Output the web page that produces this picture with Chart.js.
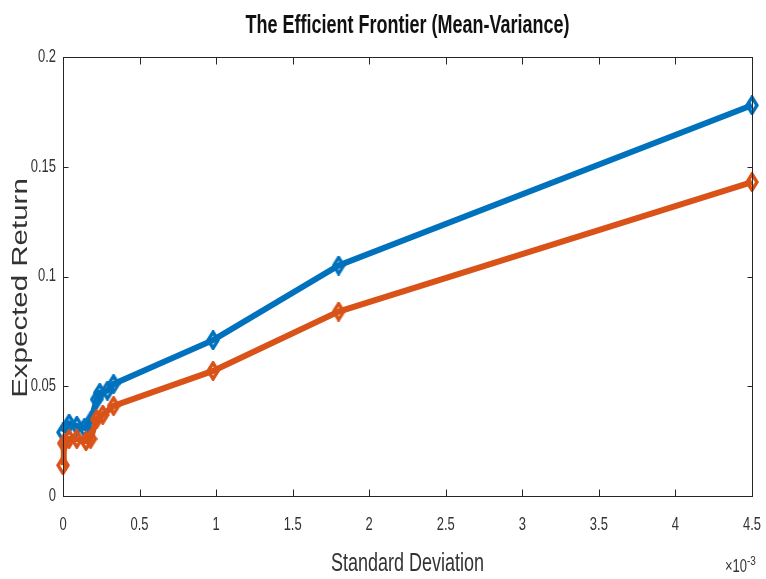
<!DOCTYPE html>
<html>
<head>
<meta charset="utf-8">
<title>The Efficient Frontier (Mean-Variance)</title>
<script src="https://cdn.jsdelivr.net/npm/chart.js@4.4.1/dist/chart.umd.min.js"></script>
<style>
  html, body { margin: 0; padding: 0; background: #ffffff; }
  #wrap { width: 766px; height: 579px; }
</style>
</head>
<body>
<div id="wrap"><canvas id="frontier" width="766" height="579"></canvas></div>
<script>
// Portfolio standard deviation (x) and expected return (y) along each frontier
const blueStd = [0, 0.00004, 0.00009, 0.00014, 0.00018, 0.00022, 0.00024, 0.00029, 0.00033, 0.00098, 0.0018, 0.0045];
const blueRet = [0.029, 0.033, 0.032, 0.031, 0.034, 0.044, 0.047, 0.048, 0.051, 0.071, 0.105, 0.178];

const orangeStd = [0, 0.000005, 0.00004, 0.00009, 0.00015, 0.00018, 0.00022, 0.00026, 0.00033, 0.00098, 0.0018, 0.0045];
const orangeRet = [0.014, 0.024, 0.026, 0.026, 0.025, 0.026, 0.035, 0.037, 0.041, 0.057, 0.084, 0.143];

// Axis ticks
const xTickLabels = ['0', '0.5', '1', '1.5', '2', '2.5', '3', '3.5', '4', '4.5'];
const xTickScale = 1e-3;
const yTickLabels = ['0', '0.05', '0.1', '0.15', '0.2'];

const titleText = 'The Efficient Frontier (Mean-Variance)';
const xAxisText = 'Standard Deviation';
const yAxisText = 'Expected Return';

const BLUE = '#0072BD';
const ORANGE = '#D95319';
const INK = '#333333';
const FONT = '"Liberation Sans", Arial, Helvetica, sans-serif';
const STRETCH = 1.37; // tall, narrow lettering

function pairs(xs, ys) {
  return xs.map((x, i) => ({ x: x, y: ys[i] }));
}

// Hollow diamond marker, slightly taller than wide
function diamond(color) {
  const c = document.createElement('canvas');
  c.width = 14; c.height = 20;
  const g = c.getContext('2d');
  g.strokeStyle = color;
  g.lineWidth = 3.4;
  g.lineJoin = 'miter';
  g.beginPath();
  g.moveTo(7, 2);
  g.lineTo(12, 10);
  g.lineTo(7, 18);
  g.lineTo(2, 10);
  g.closePath();
  g.stroke();
  return c;
}

function drawText(ctx, text, x, y, opt) {
  ctx.save();
  ctx.translate(x, y);
  if (opt.rotate) {
    ctx.rotate(-Math.PI / 2);
    ctx.scale(opt.along || 1, 1);
  } else {
    ctx.scale(1, opt.sy || 1);
  }
  ctx.font = (opt.bold ? 'bold ' : '') + opt.size + 'px ' + FONT;
  ctx.fillStyle = opt.color || INK;
  ctx.textAlign = opt.align || 'center';
  ctx.textBaseline = opt.baseline || 'alphabetic';
  ctx.fillText(text, 0, 0);
  ctx.restore();
}

// Box, inward tick marks and all lettering around the axes
const axesDecor = {
  id: 'axesDecor',
  afterDatasetsDraw(chart) {
    const ctx = chart.ctx;
    const a = chart.chartArea;
    const xs = chart.scales.x;
    const ys = chart.scales.y;
    const L = Math.round(a.left) + 0.5, R = Math.round(a.right) + 0.5;
    const T = Math.round(a.top) + 0.5, B = Math.round(a.bottom) + 0.5;

    ctx.save();
    ctx.strokeStyle = '#262626';
    ctx.lineWidth = 1;
    ctx.strokeRect(L, T, R - L, B - T);

    ctx.beginPath();
    xTickLabels.forEach(lbl => {
      const px = Math.round(xs.getPixelForValue(parseFloat(lbl) * xTickScale)) + 0.5;
      ctx.moveTo(px, B); ctx.lineTo(px, B - 7);
      ctx.moveTo(px, T); ctx.lineTo(px, T + 7);
    });
    yTickLabels.forEach(lbl => {
      const py = Math.round(ys.getPixelForValue(parseFloat(lbl))) + 0.5;
      ctx.moveTo(L, py); ctx.lineTo(L + 5, py);
      ctx.moveTo(R, py); ctx.lineTo(R - 5, py);
    });
    ctx.stroke();
    ctx.restore();

    xTickLabels.forEach(lbl => {
      const px = xs.getPixelForValue(parseFloat(lbl) * xTickScale);
      drawText(ctx, lbl, px, 530, { size: 13, sy: STRETCH });
    });
    yTickLabels.forEach(lbl => {
      const py = ys.getPixelForValue(parseFloat(lbl));
      drawText(ctx, lbl, a.left - 7, py, { size: 13, sy: STRETCH, align: 'right', baseline: 'middle' });
    });

    drawText(ctx, '\u00d710', 725, 572, { size: 13, sy: STRETCH, align: 'left' });
    drawText(ctx, '-3', 747, 565, { size: 10, sy: STRETCH, align: 'left' });

    drawText(ctx, titleText, (a.left + a.right) / 2, 33, { size: 18, bold: true, sy: 1.4, color: '#111111' });
    drawText(ctx, xAxisText, (a.left + a.right) / 2, 571, { size: 18, sy: 1.4 });
    drawText(ctx, yAxisText, 21, 288, { size: 22, rotate: true, along: 1.34, baseline: 'middle' });
  }
};

const lineStyle = {
  borderWidth: 6,
  pointRadius: 8,
  pointHoverRadius: 8,
  tension: 0,
  clip: false
};

new Chart(document.getElementById('frontier'), {
  type: 'line',
  data: {
    datasets: [
      Object.assign({
        label: 'Frontier A',
        data: pairs(blueStd, blueRet),
        borderColor: BLUE,
        backgroundColor: BLUE,
        pointStyle: diamond(BLUE),
        order: 1
      }, lineStyle),
      Object.assign({
        label: 'Frontier B',
        data: pairs(orangeStd, orangeRet),
        borderColor: ORANGE,
        backgroundColor: ORANGE,
        pointStyle: diamond(ORANGE),
        order: 0
      }, lineStyle)
    ]
  },
  options: {
    responsive: false,
    animation: false,
    devicePixelRatio: 1,
    layout: { padding: { left: 63, right: 10, top: 57, bottom: 83 } },
    plugins: {
      legend: { display: false },
      title: { display: false },
      tooltip: { enabled: false }
    },
    scales: {
      x: {
        type: 'linear',
        min: 0,
        max: 0.0045,
        grid: { display: false, drawTicks: false },
        border: { display: false },
        ticks: { display: false, stepSize: 0.0005 }
      },
      y: {
        type: 'linear',
        min: 0,
        max: 0.2,
        grid: { display: false, drawTicks: false },
        border: { display: false },
        ticks: { display: false, stepSize: 0.05 }
      }
    }
  },
  plugins: [axesDecor]
});
</script>
</body>
</html>
